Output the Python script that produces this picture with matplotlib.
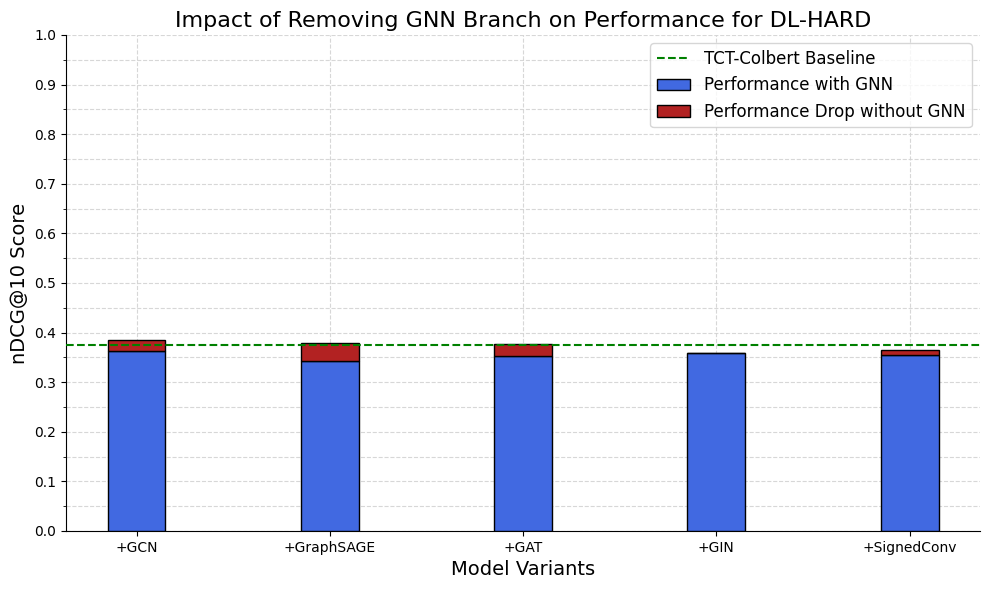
import matplotlib
matplotlib.use("Agg")
import matplotlib.pyplot as plt
import numpy as np
from matplotlib.ticker import MultipleLocator

models = ["+GCN", "+GraphSAGE", "+GAT", "+GIN", "+SignedConv"]
with_gnn = [0.362, 0.343, 0.353, 0.358, 0.355]
drop_without_gnn = [0.024, 0.037, 0.023, 0.0, 0.010]
baseline = 0.375

fig, ax = plt.subplots(figsize=(9.89, 5.9), dpi=100)
fig.subplots_adjust(left=0.0667, right=0.991, top=0.9407, bottom=0.1)
x = np.arange(len(models))
width = 0.3

ax.bar(x, with_gnn, width, color="royalblue", edgecolor="black",
       label="Performance with GNN", zorder=3)
ax.bar(x, drop_without_gnn, width, bottom=with_gnn, color="firebrick",
       edgecolor="black", label="Performance Drop without GNN", zorder=3)
ax.axhline(baseline, color="green", linestyle="--", linewidth=1.5,
           label="TCT-Colbert Baseline", zorder=4)

ax.set_xticks(x)
ax.set_xticklabels(models)
ax.set_ylim(0, 1.0)
ax.yaxis.set_major_locator(MultipleLocator(0.1))
ax.yaxis.set_minor_locator(MultipleLocator(0.05))
ax.grid(True, which="both", linestyle="--", color="lightgray", alpha=0.9, zorder=0)
ax.spines["top"].set_visible(False)
ax.spines["right"].set_visible(False)

ax.set_title("Impact of Removing GNN Branch on Performance for DL-HARD", fontsize=16)
ax.set_xlabel("Model Variants", fontsize=14)
ax.set_ylabel("nDCG@10 Score", fontsize=14)
ax.legend(fontsize=12, loc="upper right")

fig.savefig("out.png", dpi=100)
